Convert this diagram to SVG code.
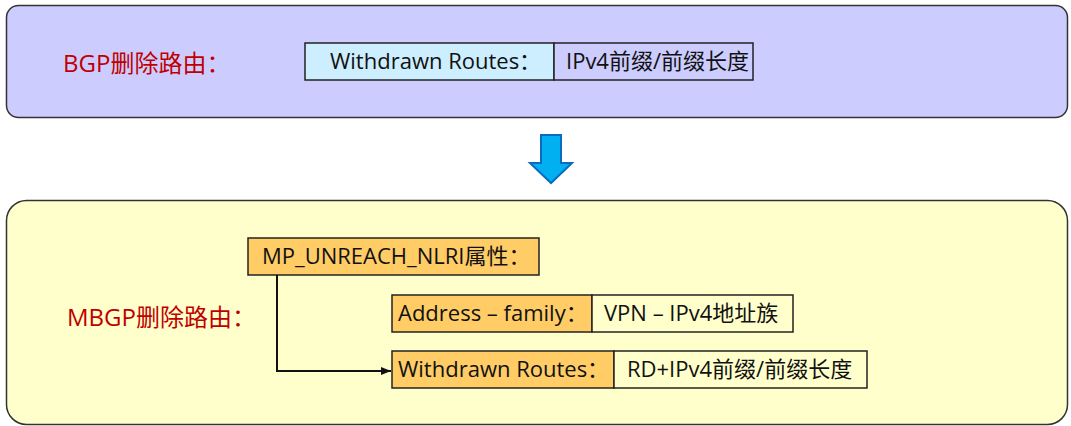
<svg xmlns="http://www.w3.org/2000/svg" width="1071" height="426" viewBox="0 0 1071 426">
  <defs>
    <style>
      .panel { stroke: #333333; stroke-width: 1.5; }
      .cell { stroke: #222222; stroke-width: 1.5; }
      .t { font-family: "Open Sans", "Noto Sans CJK SC", sans-serif; font-size: 22px; fill: #111111; }
      .title { font-family: "Open Sans", "Noto Sans CJK SC", sans-serif; font-size: 24px; fill: #c00000; }
      .link { fill: none; stroke: #111111; stroke-width: 2; }
    </style>
    <marker id="arrow" viewBox="0 0 10 10" refX="10" refY="5" markerWidth="5" markerHeight="5" orient="auto" markerUnits="strokeWidth">
      <path d="M0,1 L10,5 L0,9 z" fill="#111111"/>
    </marker>
  </defs>

  <!-- BGP withdrawal panel -->
  <g id="bgp-panel">
    <rect class="panel" x="6.5" y="5.5" width="1061" height="112" rx="12" fill="#ccccff"/>
    <text class="title" x="63" y="72">BGP删除路由：</text>
  </g>
  <g id="bgp-withdrawn">
    <rect class="cell" x="305" y="43" width="249" height="37" fill="#cceeff"/>
    <text class="t" x="330" y="69">Withdrawn Routes：</text>
  </g>
  <g id="bgp-prefix">
    <rect class="cell" x="554" y="43" width="199" height="37" fill="#ccccff"/>
    <text class="t" x="566" y="69">IPv4前缀/前缀长度</text>
  </g>

  <!-- transition arrow -->
  <g id="down-arrow">
    <path d="M541,135 H561 V163 H572 L551,183 L530,163 H541 Z" fill="#00b0f0" stroke="#0a6cbf" stroke-width="2" stroke-linejoin="miter"/>
  </g>

  <!-- MBGP withdrawal panel -->
  <g id="mbgp-panel">
    <rect class="panel" x="6.5" y="200.5" width="1061" height="224" rx="20" fill="#ffffcc"/>
    <text class="title" x="67" y="326">MBGP删除路由：</text>
  </g>
  <g id="mp-unreach">
    <rect class="cell" x="248" y="238" width="291" height="37" fill="#ffcc66"/>
    <text class="t" x="262" y="264">MP_UNREACH_NLRI属性：</text>
  </g>
  <g id="address-family">
    <rect class="cell" x="392" y="295" width="200" height="37" fill="#ffcc66"/>
    <text class="t" x="398" y="321">Address – family：</text>
  </g>
  <g id="vpn-ipv4">
    <rect class="cell" x="592" y="295" width="201" height="37" fill="#ffffcc"/>
    <text class="t" x="604" y="321">VPN – IPv4地址族</text>
  </g>
  <g id="mbgp-withdrawn">
    <rect class="cell" x="392" y="351" width="222" height="37" fill="#ffcc66"/>
    <text class="t" x="398" y="377">Withdrawn Routes：</text>
  </g>
  <g id="rd-prefix">
    <rect class="cell" x="614" y="351" width="253" height="37" fill="#ffffcc"/>
    <text class="t" x="627" y="377">RD+IPv4前缀/前缀长度</text>
  </g>

  <!-- connectors -->
  <g id="connectors">
    <path class="link" d="M277,275 V371 H391" marker-end="url(#arrow)"/>
  </g>
</svg>
